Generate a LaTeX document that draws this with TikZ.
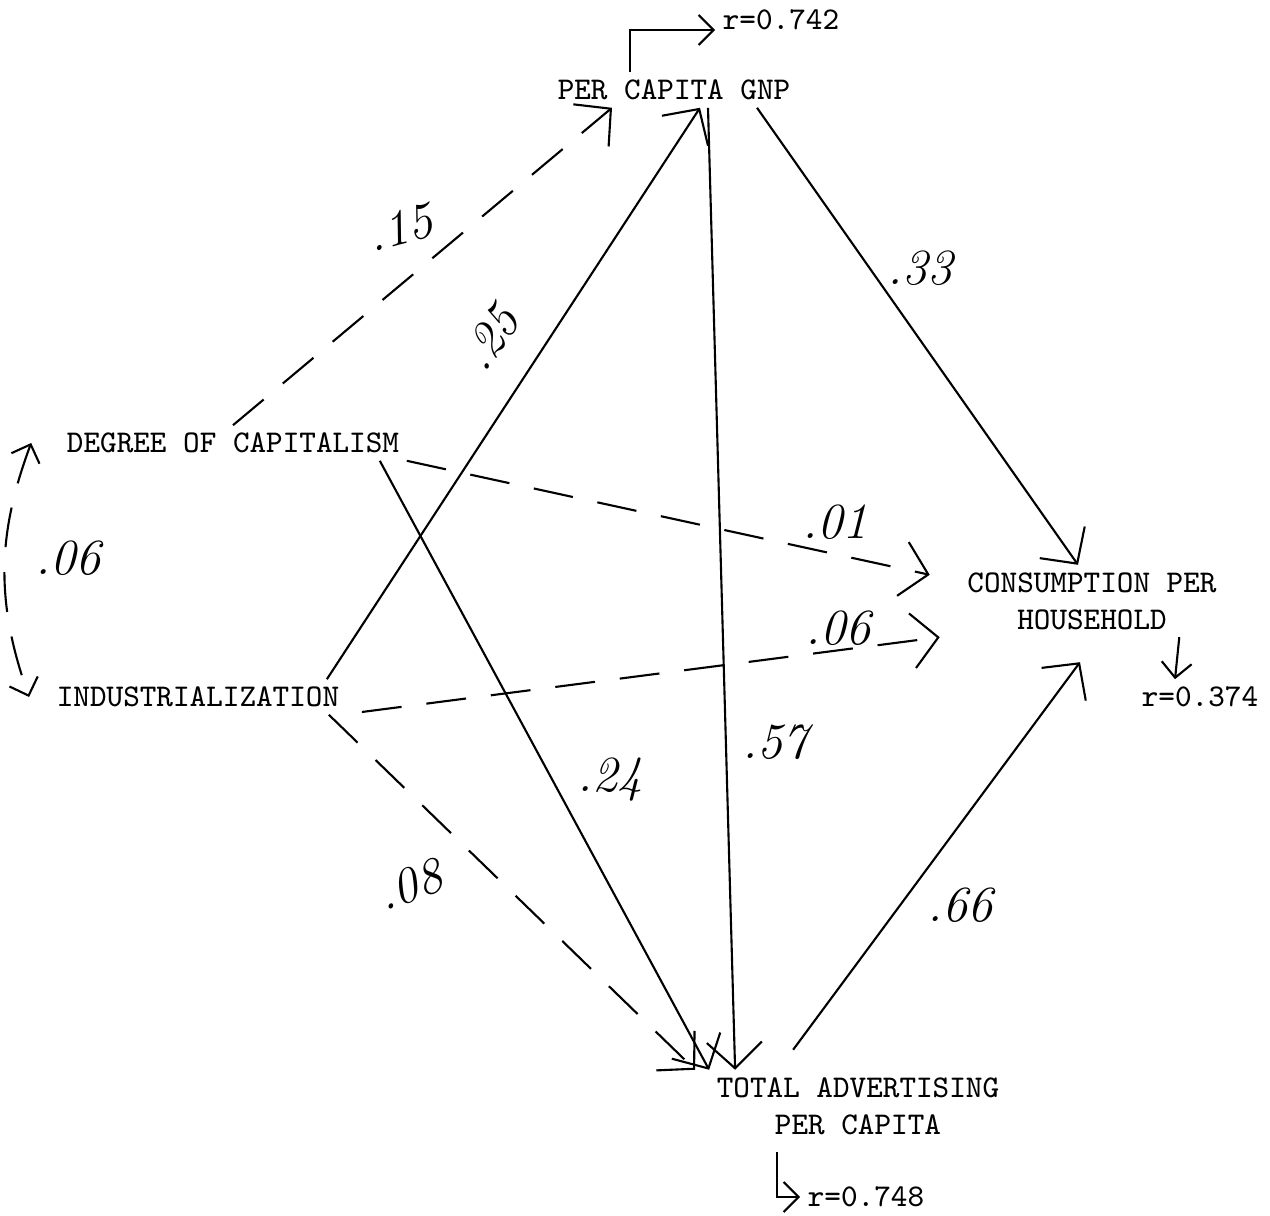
\documentclass[tikz,border=0pt]{standalone}
\usetikzlibrary{arrows.meta}
\begin{document}
\begin{tikzpicture}[
  var/.style={font=\fontsize{9}{10.5}\selectfont\ttfamily, inner sep=2pt},
  coef/.style={font=\Large\itshape, inner sep=1pt},
  arr/.style={-{Straight Barb[length=2.6mm,width=5.5mm]}, line width=0.6pt},
  dsh/.style={arr, dash pattern=on 4mm off 2.5mm},
  rarr/.style={-{Straight Barb[length=1.5mm,width=3mm]}, line width=0.6pt},
]
\useasboundingbox (0,0) rectangle (12.7,-12.16);

% ---- Variables ----
\node[var] (gnp) at (6.74,-0.90) {PER CAPITA GNP};
\node[var] (capit) at (2.33,-4.43) {DEGREE OF CAPITALISM};
\node[var] (indus) at (1.98,-6.97) {INDUSTRIALIZATION};
\node[var, align=center] (cons) at (10.92,-6.01) {CONSUMPTION PER\\HOUSEHOLD};
\node[var, align=center] (adv) at (8.58,-11.06) {TOTAL ADVERTISING\\PER CAPITA};

% ---- Residual correlations ----
\node[var] (r1) at (7.81,-0.20) {r=0.742};
\node[var] (r2) at (12.00,-6.97) {r=0.374};
\node[var] (r3) at (8.66,-11.97) {r=0.748};

\draw[rarr] ([xshift=-4.4mm]gnp.north) |- ([yshift=-1mm]r1.west);
\draw[rarr] ([xshift=-4.5mm]cons.south east) -- ([xshift=-2.5mm]r2.north);
\draw[rarr] ([xshift=6.8mm,yshift=-1mm]adv.south west) |- (r3.west);

% ---- Paths ----
\draw[dsh] (capit.north) -- ([xshift=-6.2mm]gnp.south);
\draw[arr] ([xshift=-2mm]indus.north east) -- ([xshift=2.6mm]gnp.south);
\draw[arr] ([xshift=3.4mm]gnp.south) -- ([xshift=2.6mm]adv.north west);
\draw[arr] ([xshift=8.3mm]gnp.south) -- ([xshift=-1.4mm]cons.north);
\draw[dsh] (capit.south east) -- ([xshift=-3mm,yshift=-1mm]cons.north west);
\draw[dsh] ([xshift=1.5mm,yshift=-1.5mm]indus.east) -- ([xshift=-2mm]cons.south west);
\draw[arr] ([xshift=-2.7mm]capit.south east) -- (adv.north west);
\draw[dsh] ([xshift=-1.8mm]indus.south east) -- ([xshift=-1.4mm]adv.north west);
\draw[arr] ([xshift=8.4mm,yshift=2mm]adv.north west) -- ([xshift=-1.2mm,yshift=-2.5mm]cons.south);
\draw[{Straight Barb[length=1.5mm,width=3mm]}-{Straight Barb[length=1.5mm,width=3mm]},
      line width=0.6pt, dash pattern=on 4mm off 2.5mm]
  ([xshift=-2.8mm]capit.west) to[bend right=20] ([xshift=-2mm]indus.west);

% ---- Coefficients ----
\node[coef, rotate=15] (c15) at (4.00,-2.28) {.15};
\node[coef, rotate=55] (c25) at (4.90,-3.38) {.25};
\node[coef] (c33) at (9.20,-2.68) {.33};
\node[coef] (c01) at (8.35,-5.22) {.01};
\node[coef] (c06b) at (8.38,-6.28) {.06};
\node[coef] (c57) at (7.75,-7.42) {.57};
\node[coef] (c24) at (6.10,-7.80) {.24};
\node[coef, rotate=20] (c08) at (4.10,-8.85) {.08};
\node[coef] (c66) at (9.60,-9.05) {.66};
\node[coef] (c06a) at (0.68,-5.58) {.06};

\end{tikzpicture}
\end{document}
